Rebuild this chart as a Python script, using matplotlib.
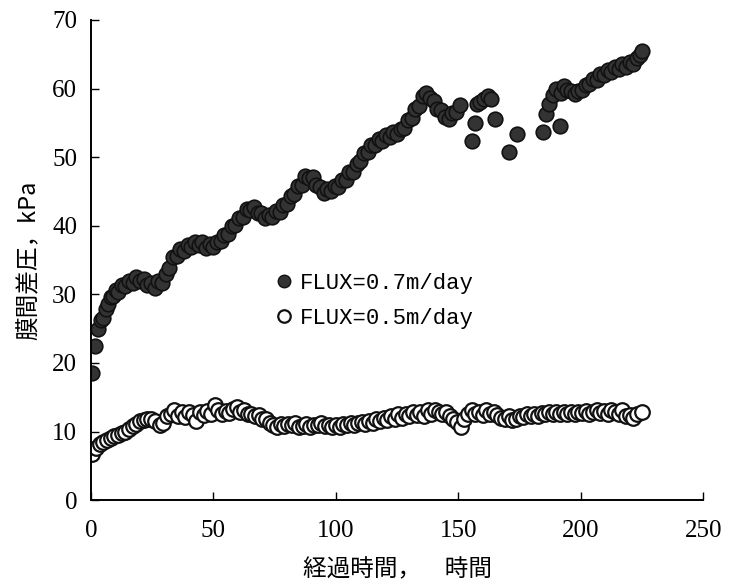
import matplotlib
matplotlib.use("Agg")
import matplotlib.pyplot as plt
from matplotlib.lines import Line2D

# FLUX = 0.7 m/day (filled markers)
hours_07 = [0.5, 1.5, 3, 4, 5, 6, 7, 8, 9, 10, 11, 12.5, 14, 15.5, 17, 18.5, 20, 21.5,
            23, 24.5, 26, 27.5, 29, 30.5, 32, 33.5, 35, 36.5, 38, 39.5, 41, 42.5, 44,
            45.5, 47, 48.5, 50, 51.5, 53, 54.5, 56, 57.5, 59, 60.5, 62, 63.5, 65, 66.5,
            68, 69.5, 71, 72.5, 74, 75.5, 77, 78.5, 80, 81.5, 83, 84.5, 86, 87.5, 89,
            90.5, 92, 93.5, 95, 96.5, 98, 99.5, 101, 102.5, 104, 105.5, 107, 108.5, 110,
            111.5, 113, 114.5, 116, 117.5, 119, 120.5, 122, 123.5, 125, 126.5, 128,
            129.5, 131, 132.5, 134, 135.5, 137, 138.5, 140, 141.5, 143, 144.5, 146,
            147.5, 149, 150.5,
            155.5, 157, 157.5, 159, 160.5, 162, 163.5, 165, 170.5, 174,
            184.5, 186, 187, 188.5, 190, 191.5, 192, 193, 194.5, 196, 197.5, 199, 200.5,
            202, 203.5, 205, 206.5, 208, 209.5, 211, 212.5, 214, 215.5, 217, 218.5, 220,
            221.5, 223, 224, 225]
kpa_07 = [18.5, 22.5, 25.0, 26.2, 26.5, 27.9, 28.6, 29.6, 29.8, 30.7, 30.4, 31.3, 31.2,
          32.0, 31.7, 32.5, 32.0, 32.2, 31.4, 31.6, 30.9, 31.9, 31.6, 33.0, 33.8, 35.4,
          35.6, 36.6, 36.3, 37.2, 36.9, 37.7, 37.2, 37.6, 36.8, 37.3, 36.9, 37.7, 37.8,
          38.6, 38.8, 40.0, 40.1, 41.1, 41.2, 42.5, 42.3, 42.8, 41.9, 41.8, 41.1, 41.5,
          41.3, 42.1, 42.0, 43.0, 43.2, 44.3, 44.6, 45.8, 46.0, 47.2, 46.9, 47.1, 46.0,
          45.7, 44.8, 45.3, 45.0, 45.8, 45.6, 46.6, 46.7, 47.8, 47.9, 49.0, 49.4, 50.6,
          50.7, 51.8, 51.7, 52.6, 52.4, 53.2, 52.9, 53.7, 53.4, 54.1, 54.3, 55.4, 55.7,
          57.0, 57.4, 58.9, 59.4, 58.6, 58.2, 57.0, 56.8, 55.8, 55.6, 56.5, 56.6, 57.6,
          52.3, 54.9, 57.7, 58.1, 58.5, 58.9, 58.4, 55.6, 50.7, 53.3,
          53.7, 56.3, 57.8, 59.1, 59.9, 54.5, 59.4, 60.3, 59.8, 59.6, 59.2, 59.6, 59.8,
          60.5, 60.6, 61.4, 61.3, 62.1, 61.9, 62.7, 62.4, 63.2, 62.8, 63.5, 63.1, 63.8,
          63.6, 64.5, 64.9, 65.5]

# FLUX = 0.5 m/day (open markers)
hours_05 = [0.5, 2, 3.5, 5, 6.5, 8, 9.5, 11, 12.5, 14, 15.5, 17, 18.5, 20, 21.5, 23, 24.5,
            26, 28, 29.5, 31, 32.5, 34, 35.5, 37, 38.5, 40, 41.5, 43, 44.5, 46, 47.5, 49,
            50.5, 52, 53.5, 55, 56.5, 58, 59.5, 61, 62.5, 64, 65.5, 67, 68.5, 70, 71.5,
            73, 74.5, 76, 77.5, 79, 80.5, 82, 83.5, 85, 86.5, 88, 89.5, 91, 92.5, 94,
            95.5, 97, 98.5, 100, 101.5, 103, 104.5, 106, 107.5, 109, 110.5, 112, 113.5,
            115, 116.5, 118, 119.5, 121, 122.5, 124, 125.5, 127, 128.5, 130, 131.5, 133,
            134.5, 136, 137.5, 139, 140.5, 142, 143.5, 145, 146.5, 148, 149.5, 151,
            152.5, 154, 155.5, 157, 158.5, 160, 161.5, 163, 164.5, 166, 167.5, 169,
            170.5, 172, 173.5, 175, 176.5, 178, 179.5, 181, 182.5, 184, 185.5, 187,
            188.5, 190, 191.5, 193, 194.5, 196, 197.5, 199, 200.5, 202, 203.5, 205,
            206.5, 208, 209.5, 211, 212.5, 214, 215.5, 217, 218.5, 220, 221.5, 223, 225]
kpa_05 = [6.7, 7.6, 8.2, 8.5, 8.8, 9.0, 9.3, 9.5, 9.8, 10.0, 10.4, 10.8, 11.1, 11.5, 11.7,
          11.8, 11.9, 11.6, 11.0, 11.2, 12.2, 12.5, 13.1, 12.2, 12.8, 12.1, 12.8, 12.4,
          11.5, 12.9, 12.4, 13.0, 12.6, 13.9, 13.2, 12.6, 13.0, 12.7, 13.3, 13.6, 12.9,
          13.1, 12.6, 12.6, 12.2, 12.4, 11.8, 11.8, 11.2, 11.0, 10.6, 11.1, 10.8, 11.1,
          10.9, 11.2, 10.6, 10.8, 11.1, 10.7, 11.0, 10.9, 11.2, 10.8, 11.0, 10.6, 10.9,
          10.7, 11.1, 11.0, 11.3, 10.9, 11.2, 11.4, 11.1, 11.6, 11.3, 11.8, 11.5, 12.0,
          11.7, 12.3, 11.9, 12.5, 12.0, 12.6, 12.2, 12.8, 12.4, 12.9, 12.3, 13.1, 12.6,
          13.2, 12.8, 12.5, 12.9, 12.3, 11.8, 11.4, 10.7, 11.8, 12.6, 13.2, 12.5, 12.9,
          12.4, 13.1, 12.6, 12.9, 12.4, 12.0, 11.8, 12.2, 11.7, 11.9, 12.3, 12.1, 12.6,
          12.3, 12.5, 12.2, 12.7, 12.5, 12.9, 12.6, 12.8, 12.5, 12.9, 12.6, 12.8, 12.5,
          12.9, 12.7, 13.0, 12.6, 12.9, 13.1, 12.7, 13.0, 12.6, 13.2, 12.8, 12.6, 13.1,
          12.2, 12.4, 12.0, 12.5, 12.9]

x_ticks = [0, 50, 100, 150, 200, 250]
y_ticks = [0, 10, 20, 30, 40, 50, 60, 70]
labels = ["FLUX=0.7m/day", "FLUX=0.5m/day"]

num_font = "Liberation Serif"
jp_font = ["Noto Sans CJK JP", "DejaVu Sans"]

fig = plt.figure(figsize=(7.34, 5.85), dpi=100)
ax = fig.add_axes([0.124, 0.145, 0.834, 0.821])

ax.plot(hours_07, kpa_07, linestyle="none", marker="o", markersize=10.5,
        markerfacecolor="#333333", markeredgecolor="#111111", markeredgewidth=1.2)
ax.plot(hours_05, kpa_05, linestyle="none", marker="o", markersize=10.5,
        markerfacecolor="white", markeredgecolor="#111111", markeredgewidth=1.6)

ax.set_xlim(0, 250)
ax.set_ylim(0, 70)
ax.set_xticks(x_ticks)
ax.set_yticks(y_ticks)
for lab in ax.get_xticklabels() + ax.get_yticklabels():
    lab.set_fontfamily(num_font)
    lab.set_fontsize(18)
ax.tick_params(direction="in", length=6, width=1, pad=10)
ax.tick_params(axis="x", pad=14)

for s in ["top", "right"]:
    ax.spines[s].set_visible(False)
for s in ["left", "bottom"]:
    ax.spines[s].set_linewidth(1.4)

ax.set_xlabel("経過時間，　時間", fontsize=17, family=jp_font, labelpad=12)
ax.set_ylabel("膜間差圧，kPa", fontsize=17, family=jp_font, labelpad=8)

handles = [
    Line2D([], [], linestyle="none", marker="o", markersize=9,
           markerfacecolor="#333333", markeredgecolor="#111111"),
    Line2D([], [], linestyle="none", marker="o", markersize=9,
           markerfacecolor="white", markeredgecolor="#111111", markeredgewidth=1.6),
]
ax.legend(handles, labels, loc="center left", bbox_to_anchor=(0.268, 0.415),
          frameon=False, handlelength=0.8, handletextpad=0.3, labelspacing=0.6,
          prop={"family": "Liberation Mono", "size": 16})

fig.savefig("out.png", dpi=100)
